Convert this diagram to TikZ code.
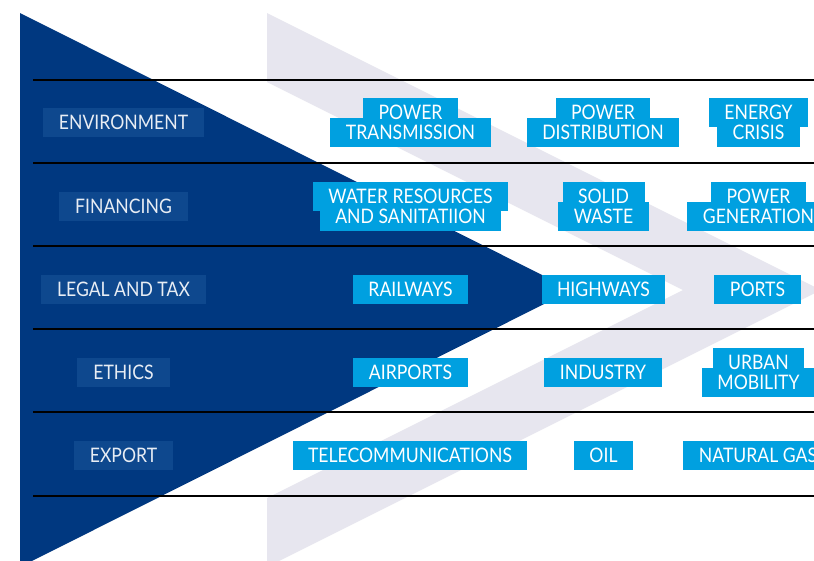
\documentclass[tikz,border=0pt]{standalone}
\usepackage{fontspec}
\setmainfont{Lato}[FakeStretch=0.88]
\definecolor{navy}{RGB}{0,56,128}
\definecolor{lblue}{RGB}{14,72,142}
\definecolor{ltext}{RGB}{232,237,244}
\definecolor{cyanb}{RGB}{0,160,224}
\definecolor{chev}{RGB}{231,230,239}
\newcommand\boxfont{\fontsize{20pt}{20pt}\selectfont}
\tikzset{
  cfill/.style={fill=cyanb, inner xsep=15.5pt, inner ysep=0pt, minimum height=29pt,
    text height=14.4pt, text depth=0pt, font=\boxfont},
  cbox/.style={cfill, text=white},
  ctext/.style={text=white, inner sep=0pt, text height=14.4pt, text depth=0pt, font=\boxfont},
  lbox/.style={fill=lblue, text=ltext, inner xsep=16pt, inner ysep=0pt, minimum height=29pt,
    text height=14.4pt, text depth=0pt, font=\boxfont},
  rowline/.style={draw=black, line width=1.1pt}
}
\newcommand\pairbox[5]{%
  \node[cfill] (#1a) at (#2,#3-10) {\phantom{#4}};
  \node[cfill] (#1b) at (#2,#3+10) {\phantom{#5}};
  \node[ctext] (#1at) at (#1a) {#4};
  \node[ctext] (#1bt) at (#1b) {#5};}
\begin{document}
\begin{tikzpicture}[x=1pt,y=-1pt]
\useasboundingbox (0,0) rectangle (814,560);
\clip (0,0) rectangle (814,560);
\fill[white] (0,0) rectangle (814,560);
% chevron
\fill[chev] (267,13) -- (821,290) -- (267,567) -- (267,498) -- (683,290) -- (267,82) -- cycle;
% triangle
\fill[navy] (20,13) -- (572,290) -- (20,567) -- cycle;
% row lines
\foreach \yy in {80,163,246,329,412,496}
  \draw[rowline] (33,\yy) -- (814,\yy);
% left labels
\node[lbox] (env) at (123.5,122.5) {ENVIRONMENT};
\node[lbox] (fin) at (123.5,206) {FINANCING};
\node[lbox] (leg) at (123.5,289.5) {LEGAL AND TAX};
\node[lbox] (eth) at (123.5,372.5) {ETHICS};
\node[lbox] (exp) at (123.5,455.5) {EXPORT};
% row 1
\pairbox{pt}{410.5}{122.5}{POWER}{TRANSMISSION}
\pairbox{pd}{603}{122.5}{POWER}{DISTRIBUTION}
\pairbox{ec}{758.5}{122.5}{ENERGY}{CRISIS}
% row 2
\pairbox{wr}{410.5}{206.5}{WATER RESOURCES}{AND SANITATIION}
\pairbox{sw}{603.5}{206.5}{SOLID}{WASTE}
\pairbox{pg}{758.5}{206.5}{POWER}{GENERATION}
% row 3
\node[cbox] (rail) at (410.5,289) {RAILWAYS};
\node[cbox] (high) at (603.5,289) {HIGHWAYS};
\node[cbox] (port) at (757.5,289) {PORTS};
% row 4
\node[cbox] (air) at (410.5,372.5) {AIRPORTS};
\node[cbox] (ind) at (603,372.5) {INDUSTRY};
\pairbox{um}{758.5}{372.5}{URBAN}{MOBILITY}
% row 5
\node[cbox] (tel) at (410,455.5) {TELECOMMUNICATIONS};
\node[cbox] (oil) at (603.5,455.5) {OIL};
\node[cbox] (gas) at (758,455.5) {NATURAL GAS};
\end{tikzpicture}
\end{document}
